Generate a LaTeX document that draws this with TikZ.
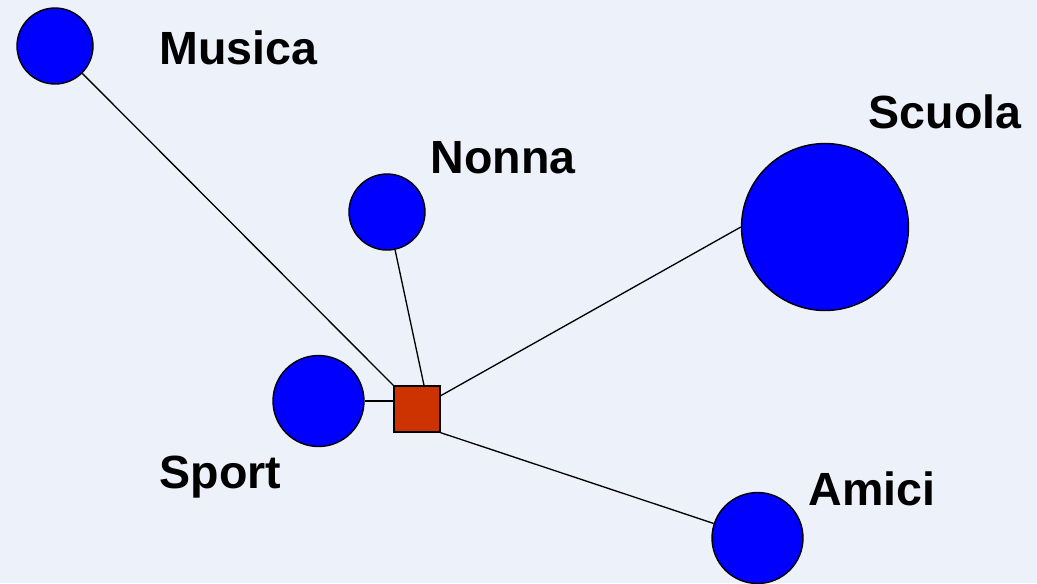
\documentclass[tikz,border=0pt]{standalone}
\usepackage{fontspec}
\setmainfont{Liberation Sans}
\usetikzlibrary{positioning}
\definecolor{bgblue}{HTML}{EDF1FA}
\definecolor{ballblue}{HTML}{0000FF}
\definecolor{boxred}{HTML}{CC3300}
\begin{document}
\begin{tikzpicture}[x=0.02cm, y=-0.02cm, line width=0.75pt,
        ball/.style={circle, draw=black, line width=0.8pt, fill=ballblue, inner sep=0pt},
        hub/.style={rectangle, draw=black, line width=0.8pt, fill=boxred, inner sep=0pt, minimum size=0.92cm},
        word/.style={anchor=base west, inner sep=0pt, font=\fontsize{26.5}{30}\selectfont\bfseries}]
            \fill[bgblue] (0, 0) rectangle (1037, 583);
            \useasboundingbox (0, 0) rectangle (1037, 583);
            \newcommand{\topic}[4]{
                \node[ball, minimum size=#4] (#1) at (#2, #3) {};
            }
            % the circles round the box
            \topic{musica}{55}{46}{1.52cm}
            \topic{nonna} {387}{212}{1.52cm}
            \topic{scuola}{825}{227}{3.34cm}
            \topic{sport} {318.5}{401}{1.82cm}
            \topic{amici} {757.5}{538}{1.82cm}
            \node[hub] (box) at (417, 409) {};

            % connectors
            \draw (musica) -- (box.north west);
            \draw (nonna) -- ([xshift=0.14cm]box.north);
            \draw (box) -- (scuola.west);
            \draw (sport.east) -- (sport.east -| box.west);
            \draw (box.south east) -- (amici);

            % labels
            \node[word] (musicatext) at (159, 64) {Musica};
            \node[word] (nonnatext)  at (430, 173) {Nonna};
            \node[word] (scuolatext) at (868, 128) {Scuola};
            \node[word] (sporttext)  at (159, 488) {Sport};
            \node[word] (amicitext)  at (808, 505) {Amici};
        \end{tikzpicture}
\end{document}
